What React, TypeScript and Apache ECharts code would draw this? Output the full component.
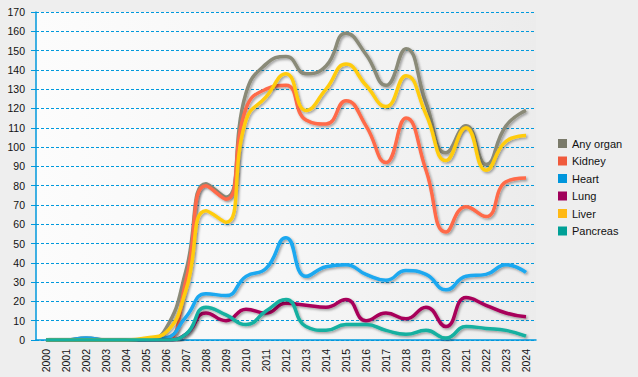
import React, { useEffect, useRef } from "react";
import * as echarts from "echarts";

const years = [
  "2000", "2001", "2002", "2003", "2004", "2005", "2006", "2007", "2008", "2009",
  "2010", "2011", "2012", "2013", "2014", "2015", "2016", "2017", "2018", "2019",
  "2020", "2021", "2022", "2023", "2024",
];

const anyOrgan = [0, 0, 1, 0, 0, 0, 6, 36, 81, 74, 128, 143, 147, 138, 142, 159, 148, 132, 151, 123, 97, 111, 91, 111, 119];
const kidney = [0, 0, 0, 0, 0, 0, 0, 31, 80, 73, 120, 130, 132, 114, 112, 124, 111, 92, 115, 88, 56, 69, 64, 82, 84];
const heart = [0, 0, 1, 0, 0, 0, 1, 12, 24, 23, 33, 37, 53, 33, 38, 39, 34, 31, 36, 34, 26, 33, 34, 39, 35];
const lung = [0, 0, 0, 0, 0, 0, 0, 3, 14, 10, 16, 14, 19, 18, 17, 21, 10, 14, 11, 17, 7, 22, 18, 14, 12];
const liver = [0, 0, 0, 0, 0, 1, 4, 26, 67, 61, 114, 126, 138, 119, 130, 143, 132, 121, 137, 117, 93, 110, 88, 103, 106];
const pancreas = [0, 0, 0, 0, 0, 0, 0, 3, 17, 13, 8, 15, 21, 7, 5, 8, 8, 5, 3, 5, 1, 7, 6, 5, 2];

const seriesDefs = [
  { name: "Any organ", data: anyOrgan, line: "#8a8a78", icon: "#7a7a6a" },
  { name: "Kidney", data: kidney, line: "#ff6a48", icon: "#f05a3c" },
  { name: "Heart", data: heart, line: "#1aa8f0", icon: "#0096dc" },
  { name: "Lung", data: lung, line: "#a8005a", icon: "#a0005a" },
  { name: "Liver", data: liver, line: "#ffcc10", icon: "#ffb914" },
  { name: "Pancreas", data: pancreas, line: "#14b0a0", icon: "#00a096" },
];

export default function App() {
  const ref = useRef<HTMLDivElement>(null);
  useEffect(() => {
    const chart = echarts.init(ref.current!, null, { renderer: "svg" });
    const blue = "#0099dd";
    chart.setOption({
      animation: false,
      backgroundColor: "#eeeeee",
      textStyle: { fontFamily: "Liberation Sans, Arial, sans-serif" },
      grid: {
        left: 36,
        right: 102,
        top: 12,
        bottom: 37,
        show: true,
        borderWidth: 0,
        backgroundColor: new echarts.graphic.LinearGradient(0, 0, 1, 0, [
          { offset: 0, color: "#fcfcfc" },
          { offset: 0.5, color: "#f6f6f6" },
          { offset: 1, color: "#ececec" },
        ]),
      },
      legend: {
        orient: "vertical",
        left: 553,
        top: 133,
        itemWidth: 9,
        itemHeight: 9,
        itemGap: 6.5,
        icon: "rect",
        textStyle: { fontSize: 11, color: "#111", fontFamily: "Liberation Sans, Arial, sans-serif" },
        data: seriesDefs.map((s) => s.name),
      },
      xAxis: {
        type: "category",
        data: years,
        boundaryGap: true,
        axisLine: { lineStyle: { color: blue, width: 1.5 } },
        axisTick: { alignWithLabel: true, length: 5, lineStyle: { color: blue } },
        axisLabel: { rotate: 90, margin: 9, fontSize: 10.5, color: "#111", interval: 0 },
        splitLine: { show: false },
      },
      yAxis: {
        type: "value",
        min: 0,
        max: 170,
        interval: 10,
        axisLine: { show: true, lineStyle: { color: blue, width: 1.5 } },
        axisTick: { show: true, length: 5, lineStyle: { color: blue } },
        axisLabel: { margin: 11, fontSize: 10.5, color: "#111" },
        splitLine: { show: true, lineStyle: { color: blue, type: [3, 2], width: 1 } },
      },
      series: seriesDefs.map((s) => ({
        name: s.name,
        type: "line",
        data: s.data,
        smooth: 0.5,
        showSymbol: false,
        symbol: "none",
        itemStyle: { color: s.icon },
        lineStyle: {
          color: s.line,
          width: 3.5,
          shadowColor: "rgba(0,0,0,0.35)",
          shadowBlur: 2,
          shadowOffsetX: 1.5,
          shadowOffsetY: 1.5,
        },
      })),
    });
    return () => chart.dispose();
  }, []);
  return <div ref={ref} style={{ position: "fixed", left: 0, top: 0, width: 638, height: 377 }} />;
}
